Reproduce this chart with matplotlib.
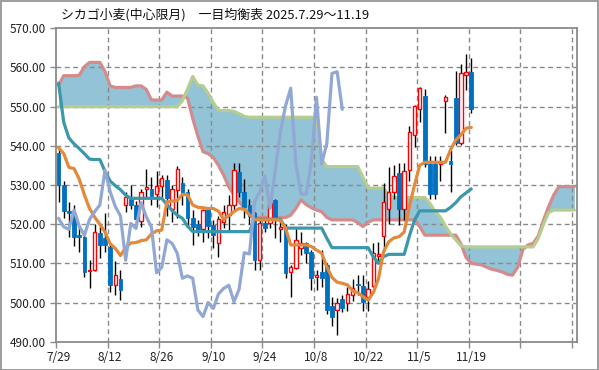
import matplotlib
matplotlib.use("Agg")
import matplotlib.pyplot as plt
from matplotlib.patches import Rectangle
import numpy as np

plt.rcParams['font.family'] = ['Noto Sans CJK JP', 'DejaVu Sans']

title = "シカゴ小麦(中心限月)　一目均衡表 2025.7.29～11.19"
xlabels = ["7/29", "8/12", "8/26", "9/10", "9/24", "10/8", "10/22", "11/5", "11/19"]
yticks = [490, 500, 510, 520, 530, 540, 550, 560, 570]

opens = [538.1, 530.0, 523.3, 522.0, 517.2, 516.8, 508.0, 508.3, 517.7, 516.4,
         514.2, 504.6, 505.9, 525.0, 526.4, 524.9, 520.8, 528.9, 529.1, 527.6,
         529.7, 531.3, 524.0, 528.7, 530.6, 528.3, 521.7, 520.0, 518.7, 524.0,
         519.8, 515.1, 520.6, 522.3, 524.9, 533.4, 528.3, 524.9, 522.8, 510.8,
         520.2, 520.2, 526.2, 518.7, 519.0, 507.7, 508.9, 513.8, 515.1, 513.0,
         506.6, 507.9, 509.6, 499.1, 498.1, 500.8, 499.8, 501.9, 504.6, 504.3,
         501.5, 504.2, 511.9, 517.0, 523.8, 528.3, 533.0, 524.0, 533.8, 542.7,
         549.3, 552.7, 535.4, 535.4, 535.4, 551.5, 536.0, 552.3, 540.6, 558.1,
         558.9]
highs = [539.5, 531.0, 525.7, 525.0, 519.8, 517.5, 510.8, 520.0, 519.8, 522.8,
         515.2, 510.6, 508.4, 528.3, 530.0, 526.0, 529.1, 534.0, 532.0, 533.5,
         532.5, 532.5, 530.0, 534.8, 532.0, 529.0, 523.6, 521.0, 524.0, 524.5,
         521.0, 522.0, 525.0, 527.5, 535.5, 535.5, 531.5, 526.5, 523.0, 521.0,
         521.5, 526.5, 526.5, 521.0, 520.0, 509.6, 519.0, 518.1, 515.5, 513.5,
         508.3, 513.4, 510.0, 501.5, 501.1, 502.0, 504.0, 506.0, 507.0, 507.0,
         505.5, 515.3, 515.5, 530.4, 534.7, 535.0, 535.5, 535.5, 545.0, 550.5,
         555.1, 554.4, 537.4, 537.4, 537.4, 553.0, 538.9, 559.1, 561.0, 563.4,
         562.5]
lows = [525.7, 521.5, 516.8, 514.5, 513.0, 506.6, 503.6, 508.0, 511.3, 513.0,
        502.8, 501.9, 500.6, 523.2, 524.0, 519.3, 519.3, 527.0, 525.0, 524.5,
        527.0, 522.0, 520.5, 521.5, 525.0, 519.0, 514.7, 517.0, 515.5, 516.5,
        514.0, 511.7, 519.0, 518.5, 523.6, 527.0, 521.5, 520.0, 508.3, 508.3,
        518.0, 519.0, 516.5, 515.5, 506.3, 501.5, 508.5, 512.1, 510.0, 503.2,
        503.2, 504.0, 497.0, 494.0, 491.8, 497.5, 497.8, 500.5, 502.0, 497.8,
        497.8, 504.0, 510.5, 513.0, 520.0, 526.5, 519.8, 521.0, 531.0, 539.8,
        546.2, 534.5, 526.3, 526.3, 531.0, 543.4, 528.3, 540.2, 540.2, 554.3,
        548.3]
closes = [530.0, 523.4, 522.8, 516.8, 516.6, 507.9, 508.3, 518.1, 514.7, 514.7,
          504.6, 507.0, 503.1, 527.0, 524.9, 521.3, 528.1, 529.6, 527.2, 529.7,
          531.7, 526.6, 528.9, 534.0, 528.0, 521.5, 519.3, 518.7, 523.6, 519.5,
          517.2, 521.2, 523.2, 524.9, 533.8, 528.3, 524.5, 522.1, 510.8, 520.2,
          518.9, 525.5, 521.9, 519.2, 507.6, 509.0, 516.0, 515.1, 512.6, 506.2,
          506.8, 506.2, 498.1, 496.4, 500.0, 498.5, 502.2, 503.6, 504.4, 500.2,
          503.4, 512.7, 512.4, 525.7, 528.3, 532.3, 524.0, 533.7, 543.5, 550.2,
          554.7, 535.4, 527.7, 527.7, 535.8, 552.4, 535.4, 540.6, 558.5, 558.9,
          549.3]

tenkan = [539.5, 538.0, 534.5, 534.2, 531.5, 527.5, 524.0, 521.8, 520.0, 518.0,
          515.0, 513.8, 512.0, 514.0, 515.2, 515.3, 515.8, 516.0, 517.5, 518.3,
          518.5, 525.7, 525.9, 526.0, 527.6, 527.5, 524.9, 524.3, 524.2, 524.0,
          524.0, 523.3, 521.2, 522.2, 523.2, 524.0, 523.8, 522.5, 521.2, 521.1,
          521.1, 521.1, 521.1, 521.0, 519.0, 514.7, 514.7, 514.7, 514.7, 514.3,
          513.4, 512.6, 509.1, 506.4, 505.2, 504.9, 504.5, 503.0, 502.5, 501.5,
          500.6, 502.5, 506.0, 513.0, 515.5, 516.5, 516.8, 518.0, 524.5, 530.0,
          535.0, 535.8, 535.8, 535.8, 535.8, 535.8, 539.0, 541.5, 542.8, 544.5,
          544.7]
kijun = ([556.0, 546.0, 542.0, 540.5, 539.3, 538.0, 536.6, 536.5, 536.5, 533.5,
          531.0, 529.8, 528.8, 527.4] + [526.6] * 7 +
         [525.0, 523.5, 522.3, 521.5, 519.5] + [518.1] * 12 + [521.3] * 6 +
         [519.0] * 8 + [516.4] + [514.0] * 8 + [511.7, 510.0, 511.7] +
         [512.3] * 4 + [517.0, 521.0] + [523.4] * 6 +
         [524.3, 525.5, 527.0, 528.0, 529.0])
senkou_a = ([550.0] * 24 + [551.5, 554.5, 557.7, 555.5, 555.3, 553.4, 551.0,
            549.0, 549.0, 549.0, 548.8, 548.2, 547.5] + [547.3] * 14 +
            [536.5] + [534.7] * 7 + [532.0] + [529.2] * 4 + [527.5] +
            [526.8] * 7 + [525.3, 523.2, 521.8, 519.5, 517.5, 516.0, 514.5] +
            [514.2] * 14 + [516.4, 520.0, 523.0] + [523.6] * 5)
senkou_b = ([555.5, 557.9, 557.9, 557.9, 558.0, 560.2, 561.3, 561.3, 561.3, 559.0,
             555.3, 554.9, 554.9, 554.9, 554.9, 555.3, 555.3, 554.4, 551.7, 551.7,
             551.7, 553.7, 552.7, 552.7, 552.7, 552.2, 547.0, 542.5, 538.5, 538.0,
             537.0, 535.0, 532.5, 529.5, 527.5, 525.7, 524.0, 522.3] +
            [521.7] * 7 +
            [522.3, 524.0, 526.2, 525.0, 524.2, 523.6, 523.2, 521.7] +
            [521.1] * 5 + [520.4, 519.4, 520.5] + [521.1] * 9 + [519.4] +
            [517.2] * 7 +
            [515.0, 511.5, 510.0, 509.8, 509.6, 509.0, 508.5, 508.2, 507.8, 507.2,
             507.0, 509.0, 513.5, 514.7, 515.1, 517.0, 521.0, 524.5, 527.5] +
            [529.6] * 4)
lag = 25  # chikou span: close plotted 25 periods back

W, H = 599, 370
fig = plt.figure(figsize=(W / 100, H / 100), dpi=100)
fig.patches.append(Rectangle((0.5 / W, 0.5 / H), 1 - 1.5 / W, 1 - 1.5 / H,
                             transform=fig.transFigure, fill=False,
                             edgecolor='#8c8c8c', linewidth=1.2))
ax = fig.add_axes([56 / W, 1 - 341.7 / H, (577 - 56) / W, (341.7 - 28.3) / H])

n_cat = 101
xs = np.arange(n_cat)
xc = np.arange(len(closes))

# cloud
ax.fill_between(xs, senkou_a, senkou_b, color='#92c3d6', linewidth=0, zorder=1)

# grid
for k in range(1, 11):
    ax.axvline(-0.5 + 10 * k, color='#8a8a8a', linestyle=(0, (3.5, 2.5)),
               linewidth=1.0, zorder=1.5)
for v in yticks[1:-1]:
    ax.axhline(v, color='#8a8a8a', linestyle=(0, (3.5, 2.5)),
               linewidth=1.0, zorder=1.5)

ax.plot(xs, senkou_b, color='#d48b8c', linewidth=2.3, zorder=2,
        solid_capstyle='round', solid_joinstyle='round')
ax.plot(xs, senkou_a, color='#b6cd90', linewidth=2.3, zorder=2.1,
        solid_capstyle='round', solid_joinstyle='round')

# candles
for i, (o, h, l, c) in enumerate(zip(opens, highs, lows, closes)):
    ax.vlines(i, l, h, color='black', linewidth=1.0, zorder=2.5)
    bot, top = min(o, c), max(o, c)
    hgt = max(top - bot, 0.35)
    if c >= o:
        ax.add_patch(Rectangle((i - 0.33, bot), 0.66, hgt, facecolor='white',
                               edgecolor='#ff0000', linewidth=1.0, zorder=2.6))
    else:
        ax.add_patch(Rectangle((i - 0.36, bot), 0.72, hgt, facecolor='#0070c0',
                               edgecolor='#0070c0', linewidth=0.6, zorder=2.6))

ax.plot(xc, kijun, color='#3b97ac', linewidth=2.3, zorder=3,
        solid_capstyle='round', solid_joinstyle='round')
ax.plot(xc, tenkan, color='#e2893b', linewidth=2.3, zorder=3.1,
        solid_capstyle='round', solid_joinstyle='round')
chikou = closes[lag:]
ax.plot(np.arange(len(chikou)), chikou, color='#91a8d5', linewidth=2.3,
        zorder=3.2, solid_capstyle='round', solid_joinstyle='round')

ax.set_xlim(-0.5, n_cat - 0.5)
ax.set_ylim(490, 570)
ax.set_yticks(yticks)
ax.set_yticklabels([f"{v:.2f}" for v in yticks], fontsize=8.5, color='#222222')
ax.set_xticks([-0.5 + 10 * k for k in range(11)])
ax.set_xticklabels([])
ax.set_xticks([10 * k for k in range(len(xlabels))], minor=True)
ax.set_xticklabels(xlabels, minor=True, fontsize=8.5, color='#222222')
ax.tick_params(axis='x', which='minor', length=0, pad=7)
ax.tick_params(axis='x', which='major', length=4, color='#8a8a8a', width=1)
ax.tick_params(axis='y', length=4, color='#8a8a8a', width=1, pad=3)
for s in ax.spines.values():
    s.set_color('#8a8a8a')
    s.set_linewidth(1.3)

fig.text(61 / W, 1 - 15 / H, title, fontsize=9.3, va='center', ha='left',
         color='#111111')

fig.savefig("out.png", dpi=100)
